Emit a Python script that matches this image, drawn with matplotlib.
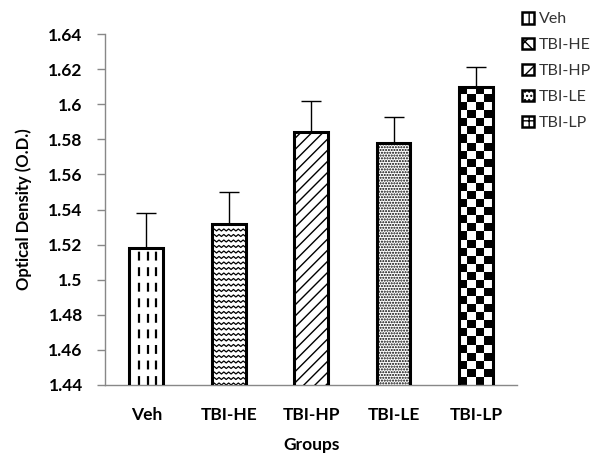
import matplotlib
matplotlib.use("Agg")
import matplotlib.pyplot as plt
import matplotlib.patches as mpatches
import numpy as np

groups = ["Veh", "TBI-HE", "TBI-HP", "TBI-LE", "TBI-LP"]
means = [1.518, 1.532, 1.584, 1.578, 1.610]
errors = [0.020, 0.018, 0.018, 0.015, 0.011]
yticks = [1.44, 1.46, 1.48, 1.5, 1.52, 1.54, 1.56, 1.58, 1.6, 1.62, 1.64]
ytick_labels = ["1.44", "1.46", "1.48", "1.5", "1.52", "1.54", "1.56", "1.58", "1.6", "1.62", "1.64"]
hatches = [None, None, "///", "......", None]
legend_hatches = ["||", "xx", "//", "....", "++"]

plt.rcParams["font.family"] = ["Lato", "DejaVu Sans"]
plt.rcParams["hatch.linewidth"] = 1.0

fig = plt.figure(figsize=(6, 4.54), dpi=100)
ax = fig.add_axes([0.175, 0.152, 0.687, 0.773])

x = np.arange(len(groups))
bars = ax.bar(x, means, width=0.41, color="white", edgecolor="black",
              linewidth=2.2, zorder=3)
for b, h in zip(bars, hatches):
    b.set_facecolor("none")
    if h:
        b.set_hatch(h)

# upper error bars only
ax.errorbar(x, means, yerr=[np.zeros(len(errors)), errors], fmt="none",
            ecolor="black", elinewidth=1, capsize=7, capthick=1, zorder=1)

ax.set_xlim(-0.5, len(groups) - 0.5)
ax.set_ylim(1.44, 1.64)
fig.canvas.draw()

p0 = ax.transData.transform((0, 1.44))
p1 = ax.transData.transform((1, 1.64))
sy = (p1[1] - p0[1]) / 0.2

# Veh: dashed vertical lines
b = bars[0]
x0, w, top = b.get_x(), b.get_width(), b.get_height()
for f in [0.3, 0.55, 0.8]:
    ln, = ax.plot([x0 + w * f, x0 + w * f], [1.44, top], color="black",
                  lw=1.6, dashes=(4, 3), zorder=2)
    ln.set_clip_path(b)

# TBI-HE: horizontal zigzag lines
b = bars[1]
x0, w, top = b.get_x(), b.get_width(), b.get_height()
step_y = 5.5 / sy
amp = 2.0 / sy
nz = 7
xs = np.linspace(x0, x0 + w, 2 * nz + 1)
for yb in np.arange(1.44, top + step_y, step_y):
    ys = yb + amp * (np.arange(len(xs)) % 2)
    ln, = ax.plot(xs, ys, color="black", lw=0.9, zorder=2)
    ln.set_clip_path(b)

# TBI-LP: checkerboard
b = bars[-1]
x0, w, top = b.get_x(), b.get_width(), b.get_height()
nrows = int(round((top - 1.44) * sy / 8.0))
ncols = 4
chk = (np.indices((nrows, ncols)).sum(axis=0) % 2).astype(float)
im = ax.imshow(chk, cmap="gray", extent=[x0, x0 + w, 1.44, top],
               aspect="auto", interpolation="nearest", zorder=2)
im.set_clip_path(b)

ax.set_xlim(-0.5, len(groups) - 0.5)
ax.set_ylim(1.44, 1.64)

ax.set_yticks(yticks)
ax.set_yticklabels(ytick_labels, fontsize=12.5, fontweight="bold")
ax.set_xticks(x)
ax.set_xticklabels(groups, fontsize=12.5, fontweight="bold")
ax.tick_params(axis="x", length=0, pad=16)
ax.tick_params(axis="y", length=6, color="#888888", width=1, pad=10)
for s in ["top", "right"]:
    ax.spines[s].set_visible(False)
for s in ["left", "bottom"]:
    ax.spines[s].set_color("#888888")
    ax.spines[s].set_linewidth(1)

ax.set_ylabel("Optical Density (O.D.)", fontsize=12, fontweight="bold", labelpad=12)
ax.set_xlabel("Groups", fontsize=12.5, fontweight="bold", labelpad=10)

handles = []
for g, h in zip(groups, legend_hatches):
    handles.append(mpatches.Patch(facecolor="white", edgecolor="black",
                                  linewidth=1.8, hatch=h, label=g))
leg = fig.legend(handles=handles, loc="upper left", bbox_to_anchor=(0.86, 0.988),
                 frameon=False, fontsize=11.5, handlelength=0.75, handleheight=0.75,
                 handletextpad=0.3, labelspacing=0.72, borderaxespad=0)
for t in leg.get_texts():
    t.set_color("#333333")

fig.savefig("out.png", dpi=100)
